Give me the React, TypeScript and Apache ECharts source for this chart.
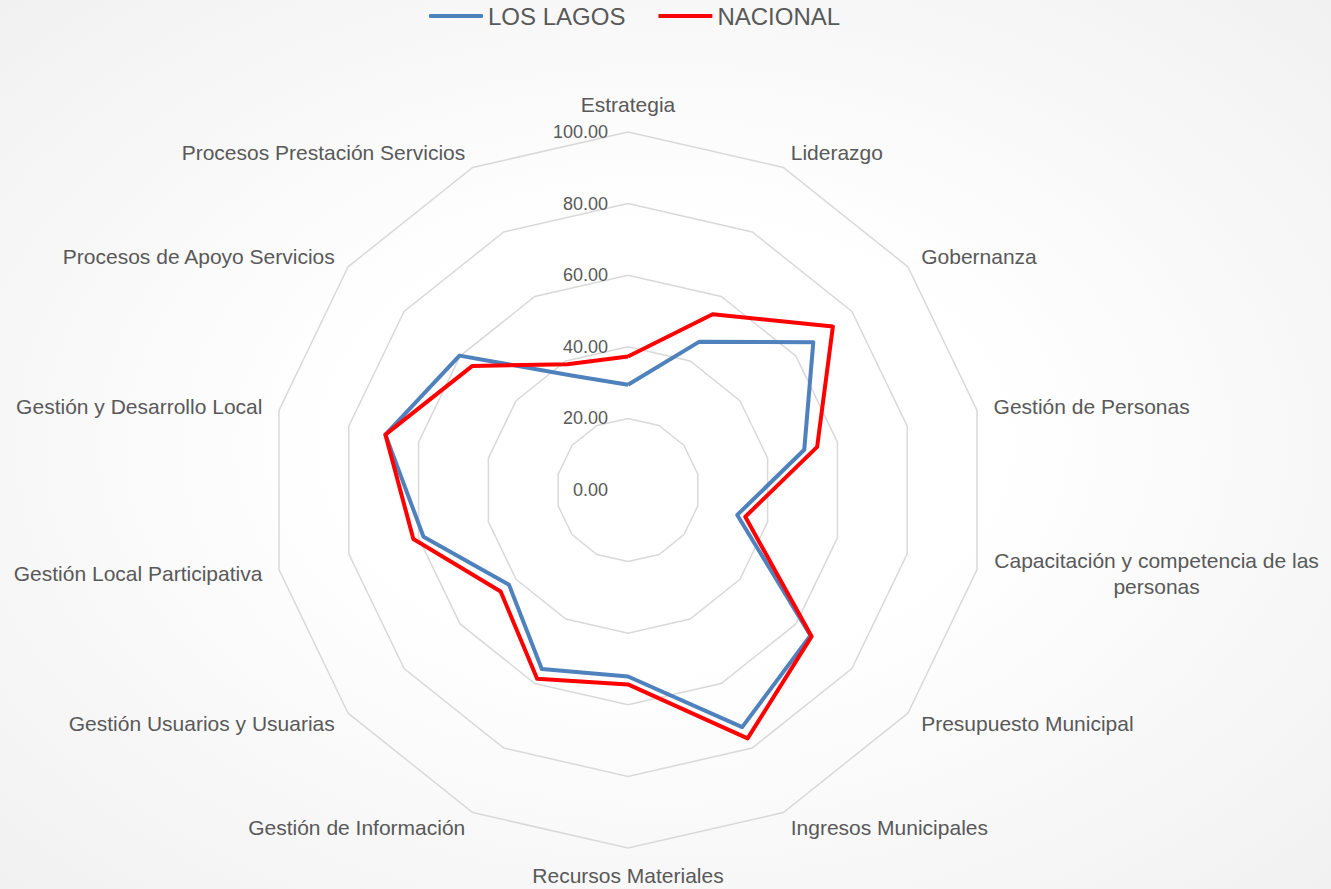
import React, { useEffect, useRef } from 'react';
import * as echarts from 'echarts';

const categories = [
  'Estrategia',
  'Liderazgo',
  'Gobernanza',
  'Gestión de Personas',
  'Capacitación y competencia de las personas',
  'Presupuesto Municipal',
  'Ingresos Municipales',
  'Recursos Materiales',
  'Gestión de Información',
  'Gestión Usuarios y Usuarias',
  'Gestión Local Participativa',
  'Gestión y Desarrollo Local',
  'Procesos de Apoyo Servicios',
  'Procesos Prestación Servicios',
];

const losLagos = [29.4, 46.0, 66.2, 50.5, 31.3, 65.2, 73.5, 52.1, 55.5, 42.5, 58.6, 69.5, 60.2, 35.4];
const nacional = [37.3, 54.5, 73.2, 54.2, 33.6, 65.6, 77.0, 54.3, 58.5, 45.5, 61.5, 69.5, 55.6, 39.0];

const seriesNames = ['LOS LAGOS', 'NACIONAL'];
const seriesColors = ['#4f81bd', '#ff0000'];

const FONT = '"Liberation Sans", Arial, sans-serif';
const TEXT_COLOR = '#595959';

export default function App() {
  const ref = useRef<HTMLDivElement>(null);

  useEffect(() => {
    document.body.style.margin = '0';
    const chart = echarts.init(ref.current!, null, { renderer: 'svg' });
    const n = categories.length;
    // ECharts lays indicators counter-clockwise; reorder so they appear clockwise.
    const order = [0, ...Array.from({ length: n - 1 }, (_, k) => n - 1 - k)];
    const indicator = order.map((i, k) => ({
      name: categories[i],
      min: 0,
      max: 100,
      ...(k === 0 ? { axisLabel: { show: true } } : {}),
    }));
    const dataSets = [losLagos, nacional];

    chart.setOption({
      animation: false,
      textStyle: { fontFamily: FONT },
      legend: {
        data: seriesNames,
        left: 424,
        top: -1,
        itemWidth: 54,
        itemHeight: 4,
        itemGap: 33,
        icon: 'roundRect',
        textStyle: { fontSize: 24, color: TEXT_COLOR, fontFamily: FONT },
      },
      radar: {
        center: [628, 490],
        radius: 358,
        startAngle: 90,
        splitNumber: 5,
        shape: 'polygon',
        axisNameGap: 17,
        axisName: {
          color: TEXT_COLOR,
          fontSize: 21,
          fontFamily: FONT,
          formatter: (name: string) => {
            if (name.length > 32) {
              const idx = name.lastIndexOf(' ');
              return '{c|' + name.slice(0, idx) + '}\n{c|' + name.slice(idx + 1) + '}';
            }
            return name;
          },
          rich: {
            c: {
              width: 326,
              align: 'center',
              fontSize: 21,
              lineHeight: 26,
              color: TEXT_COLOR,
              fontFamily: FONT,
            },
          },
        },
        splitLine: { lineStyle: { color: '#d9d9d9', width: 1.5 } },
        splitArea: { show: false },
        axisLine: { show: false },
        axisTick: { show: false },
        axisLabel: {
          show: false,
          margin: 20,
          fontSize: 18,
          color: TEXT_COLOR,
          fontFamily: FONT,
          formatter: (v: number) => Number(v).toFixed(2),
        },
        indicator,
      },
      series: [
        {
          type: 'radar',
          symbol: 'none',
          data: dataSets.map((vals, s) => ({
            name: seriesNames[s],
            value: order.map((i) => vals[i]),
            lineStyle: { color: seriesColors[s], width: 4 },
            itemStyle: { color: seriesColors[s] },
          })),
        },
      ],
    });

    return () => chart.dispose();
  }, []);

  return (
    <div
      ref={ref}
      style={{
        position: 'absolute',
        left: 0,
        top: 0,
        width: 1331,
        height: 889,
        background: 'radial-gradient(ellipse at 50% 50%, #ffffff 0%, #ffffff 35%, #f1f1f1 100%)',
      }}
    />
  );
}
